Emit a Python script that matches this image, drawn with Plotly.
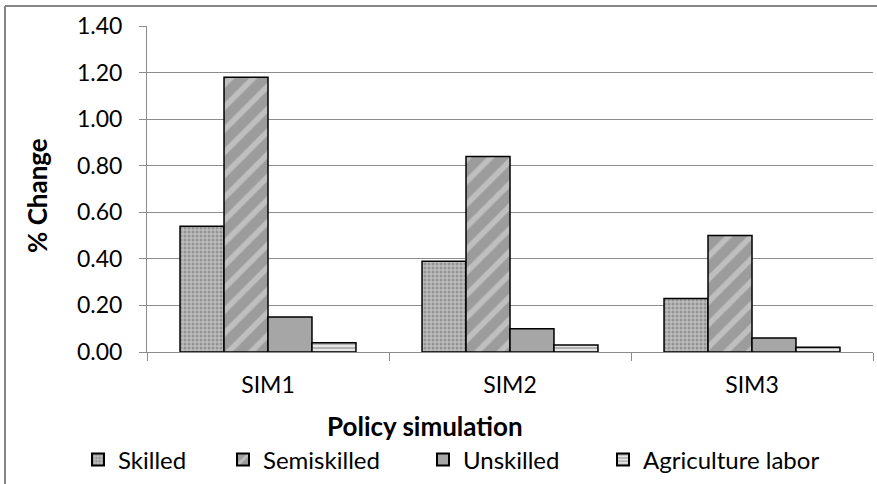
import plotly.graph_objects as go

categories = ["SIM1", "SIM2", "SIM3"]
skilled = [0.54, 0.39, 0.23]
semiskilled = [1.18, 0.84, 0.50]
unskilled = [0.15, 0.10, 0.06]
agriculture = [0.04, 0.03, 0.02]
series_names = ["Skilled", "Semiskilled", "Unskilled", "Agriculture labor"]
y_ticks = [0.0, 0.2, 0.4, 0.6, 0.8, 1.0, 1.2, 1.4]

W, H = 877, 484
ML, MR, MT, MB = 147, 4, 26, 132
FONT = "Lato"
GRID = "#8c8c8c"

fig = go.Figure()
line = dict(color="#000000", width=1.5)
fig.add_bar(x=categories, y=skilled, name=series_names[0], legend="legend",
            marker=dict(color="#b5b5b5", line=line,
                        pattern=dict(shape=".", bgcolor="#bdbdbd", fgcolor="#6a6a6a",
                                     size=4, solidity=0.45)))
fig.add_bar(x=categories, y=semiskilled, name=series_names[1], legend="legend2",
            marker=dict(color="#9a9a9a", line=line,
                        pattern=dict(shape="/", bgcolor="#9c9c9c", fgcolor="#e2e2e2",
                                     size=16, solidity=0.35)))
fig.add_bar(x=categories, y=unskilled, name=series_names[2], legend="legend3",
            marker=dict(color="#a6a6a6", line=line))
fig.add_bar(x=categories, y=agriculture, name=series_names[3], legend="legend4",
            marker=dict(color="#bfbfbf", line=line,
                        pattern=dict(shape="-", bgcolor="#e6e6e6", fgcolor="#666666",
                                     size=4, solidity=0.4)))

pw = W - ML - MR
ph = H - MT - MB

def px2x(p):
    return (p - ML) / pw

def py2y(p):
    return (H - MB - p) / ph

leg_common = dict(orientation="h", yanchor="middle", xanchor="left",
                  font=dict(family=FONT, size=24, color="#000000"),
                  bgcolor="rgba(0,0,0,0)", itemsizing="constant")
legend_px = [78, 223, 423, 603]
legends = {}
for i, key in enumerate(["legend", "legend2", "legend3", "legend4"]):
    legends[key] = dict(leg_common, x=px2x(legend_px[i]), y=py2y(460))

fig.update_layout(
    width=W, height=H,
    margin=dict(l=ML, r=MR, t=MT, b=MB, autoexpand=False),
    paper_bgcolor="white", plot_bgcolor="white",
    barmode="group", bargap=0.273, bargroupgap=0,
    font=dict(family=FONT, size=23, color="#000000"),
    showlegend=True,
    **legends,
    xaxis=dict(
        showline=True, linecolor=GRID, linewidth=1,
        ticks="outside", tickson="boundaries", ticklen=8, tickcolor=GRID,
        tickfont=dict(family=FONT, size=23), ticklabelstandoff=12,
        automargin=False,
    ),
    yaxis=dict(
        range=[0, 1.4], tickvals=y_ticks, tickformat=".2f",
        showgrid=True, gridcolor=GRID, gridwidth=1,
        showline=True, linecolor=GRID, linewidth=1,
        ticks="outside", ticklen=7, tickcolor=GRID,
        tickfont=dict(family=FONT, size=23), ticklabelstandoff=12,
        zeroline=False, automargin=False,
    ),
    annotations=[
        dict(text="<b>Policy simulation</b>", xref="paper", yref="paper",
             x=px2x(425), y=py2y(426), xanchor="center", yanchor="middle",
             showarrow=False, font=dict(family=FONT, size=26, color="#000000")),
        dict(text="<b>% Change</b>", xref="paper", yref="paper", textangle=-90,
             x=px2x(37), y=py2y(196), xanchor="center", yanchor="middle",
             showarrow=False, font=dict(family=FONT, size=26, color="#000000")),
    ],
    shapes=[
        dict(type="line", xref="paper", yref="paper",
             x0=px2x(5), x1=px2x(W), y0=py2y(6), y1=py2y(6),
             line=dict(color="#868686", width=2), layer="above"),
        dict(type="line", xref="paper", yref="paper",
             x0=px2x(5), x1=px2x(5), y0=py2y(6), y1=py2y(H),
             line=dict(color="#868686", width=2), layer="above"),
    ],
)

fig.write_html("out.html", config={"displayModeBar": False},
               post_script="document.body.style.margin='0';")
